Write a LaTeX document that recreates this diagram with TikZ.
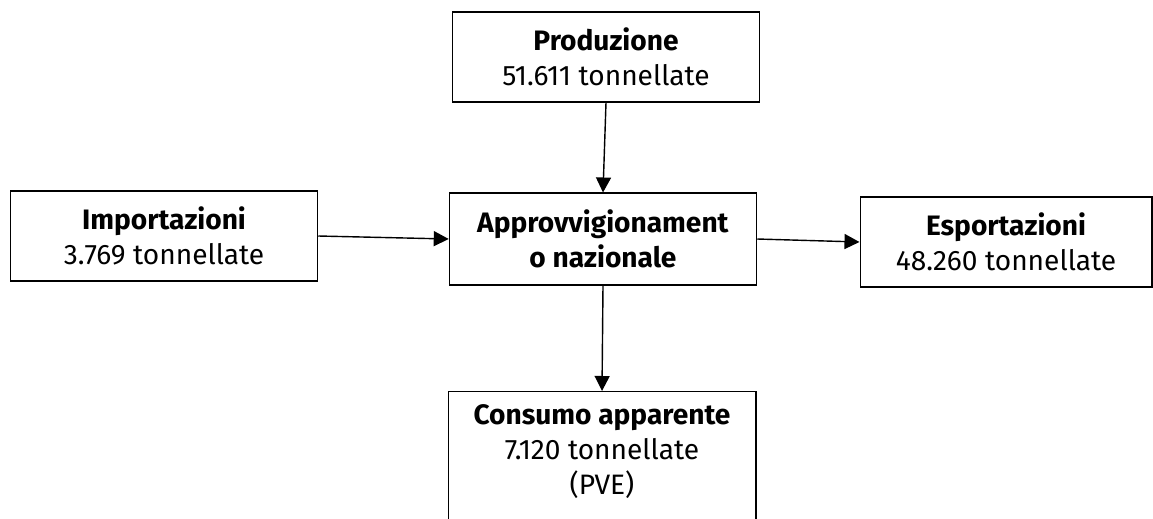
\documentclass[tikz,border=0pt]{standalone}
\usepackage{fontspec}
\setmainfont{Fira Sans}
\usetikzlibrary{arrows.meta, positioning}

\begin{document}
\begin{tikzpicture}[
			x=0.02cm, y=-0.02cm,
			font=\fontsize{16pt}{19.8pt}\selectfont,
			% Flowchart node styles
			flowbox/.style={
				draw, rectangle,
				minimum width=6.15cm, minimum height=1.8cm,
				align=center, line width=0.6pt,
				inner sep=2pt
			},
			arrow/.style={-{Triangle[length=0.3cm, width=0.3cm]}, line width=0.8pt}
		]

		\clip (0,0) rectangle (1153,518);
		\useasboundingbox (0,0) rectangle (1153,518);

		% Nodes
		\node[flowbox] (prod) at (606,57)
			{\textbf{Produzione}\\51.611 tonnellate};

		\node[flowbox] (imp) at (164,236)
			{\textbf{Importazioni}\\3.769 tonnellate};

		\node[flowbox, minimum height=1.84cm] (appr) at (603,239)
			{\textbf{Approvvigionament}\\\textbf{o nazionale}};

		\node[flowbox, minimum width=5.84cm] (esp) at (1006,242)
			{\textbf{Esportazioni}\\48.260 tonnellate};

		\node[flowbox, minimum width=6.16cm, minimum height=0pt,
			inner ysep=0.26cm, anchor=north] (cons) at (602,391)
			{\textbf{Consumo apparente}\\7.120 tonnellate\\(PVE)\\[2cm]};

		% Arrows
		\draw[arrow] (prod.south) -- (appr.north);
		\draw[arrow] (imp.east)   -- (appr.west);
		\draw[arrow] (appr.east)  -- (esp.west);
		\draw[arrow] (appr.south) -- (cons.north);

\end{tikzpicture}
\end{document}
